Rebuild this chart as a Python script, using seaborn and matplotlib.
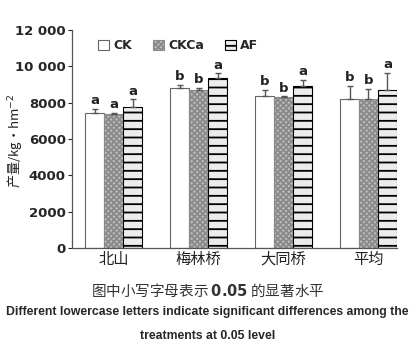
import matplotlib
matplotlib.use("Agg")
import matplotlib.pyplot as plt
import seaborn as sns
import pandas as pd
import numpy as np
from matplotlib.patches import Patch

sites = ["北山", "梅林桥", "大同桥", "平均"]
treatments = ["CK", "CKCa", "AF"]
ck = [7450, 8820, 8390, 8180]
ckca = [7360, 8700, 8290, 8180]
af = [7780, 9370, 8940, 8700]
ck_err = [200, 150, 310, 730]
ckca_err = [60, 130, 60, 600]
af_err = [400, 240, 310, 920]
ck_sig = ["a", "b", "b", "b"]
ckca_sig = ["a", "b", "b", "b"]
af_sig = ["a", "a", "a", "a"]
yticks = [0, 2000, 4000, 6000, 8000, 10000, 12000]
ytick_labels = ["0", "2000", "4000", "6000", "8000", "10 000", "12 000"]

sns.set_style("ticks")
plt.rcParams['font.family'] = ['DejaVu Sans', 'Noto Sans CJK SC']
plt.rcParams['hatch.linewidth'] = 1.3

rows = []
for t, vs in zip(treatments, [ck, ckca, af]):
    for s, v in zip(sites, vs):
        rows.append({"site": s, "treatment": t, "yield": v})
df = pd.DataFrame(rows)

fig = plt.figure(figsize=(4.15, 3.49), dpi=100)
ax = fig.add_axes([0.1735, 0.2894, 0.783, 0.6246])

sns.barplot(data=df, x="site", y="yield", hue="treatment", order=sites,
            hue_order=treatments, errorbar=None, width=0.67, ax=ax,
            palette=["white", "#bdbdbd", "#ececec"], edgecolor="#555555",
            linewidth=0.8, saturation=1, legend=False)

styles = {"CK": dict(hatch=None, edgecolor="#666666"),
          "CKCa": dict(hatch="xxxxxx", edgecolor="#8a8a8a"),
          "AF": dict(hatch="--", edgecolor="black")}
errs = {"CK": ck_err, "CKCa": ckca_err, "AF": af_err}
sigs = {"CK": ck_sig, "CKCa": ckca_sig, "AF": af_sig}
vals = {"CK": ck, "CKCa": ckca, "AF": af}

for cont, t in zip(ax.containers, treatments):
    xs = []
    for p in cont.patches:
        st = styles[t]
        if st["hatch"]:
            p.set_hatch(st["hatch"])
        p.set_edgecolor(st["edgecolor"])
        xs.append(p.get_x() + p.get_width() / 2)
    xs = np.array(xs)
    v = np.array(vals[t])
    e = np.array(errs[t])
    ax.errorbar(xs, v, yerr=[np.zeros_like(e), e], fmt="none",
                ecolor="#555555", elinewidth=1.0, capsize=2.5, capthick=1.0)
    for x, top, s in zip(xs, v + e, sigs[t]):
        ax.text(x, top + 100, s, ha="center", va="bottom", fontsize=9.5,
                fontweight="bold", color="#222222")

handles = [Patch(facecolor="white", edgecolor="#666666", linewidth=0.8),
           Patch(facecolor="#bdbdbd", edgecolor="#8a8a8a", hatch="xxxxxx", linewidth=0.8),
           Patch(facecolor="#ececec", edgecolor="black", hatch="--", linewidth=0.8)]
ax.legend(handles, treatments, ncol=3, frameon=False, loc="upper left",
          bbox_to_anchor=(0.045, 1.01), handlelength=0.9, handleheight=0.9,
          handletextpad=0.3, columnspacing=1.7,
          prop={"weight": "bold", "size": 9})

ax.set_ylim(0, 12000)
ax.set_xlim(-0.49, 3.335)
ax.set_yticks(yticks)
ax.set_yticklabels(ytick_labels, fontweight="bold", fontsize=9.5)
ax.set_xticks(range(len(sites)))
ax.set_xticklabels(sites, fontsize=11, family=['Noto Sans CJK SC', 'DejaVu Sans'], color="#222222")
for lab in ax.get_xticklabels():
    lab.set_verticalalignment("baseline")
ax.tick_params(axis="x", length=0, pad=11.5)
ax.tick_params(axis="y", length=3, width=0.8, pad=1.5)
ax.set_xlabel("")
ax.set_ylabel("")
for sp in ["top", "right"]:
    ax.spines[sp].set_visible(False)
for sp in ["left", "bottom"]:
    ax.spines[sp].set_color("#555555")
    ax.spines[sp].set_linewidth(0.9)

fig.text(15 / 415, 1 - 141 / 349, "产量/kg·hm$^{-2}$", rotation=90, ha="center", va="center",
         fontsize=9.5, family=['Noto Sans CJK SC', 'DejaVu Sans'], color="#222222")

fig.text(0.5, 1 - 290 / 349, "图中小写字母表示 $\\mathbf{0.05}$ 的显著水平", ha="center", va="center",
         fontsize=10.5, family=['Noto Sans CJK SC', 'DejaVu Sans'], color="#333333")
fig.text(0.5, 1 - 312 / 349, "Different lowercase letters indicate significant differences among the",
         ha="center", va="center", fontsize=8.8, fontweight="bold",
         family=['Liberation Sans', 'DejaVu Sans'])
fig.text(0.5, 1 - 336 / 349, "treatments at 0.05 level",
         ha="center", va="center", fontsize=8.8, fontweight="bold",
         family=['Liberation Sans', 'DejaVu Sans'])

fig.savefig("out.png", dpi=100)
